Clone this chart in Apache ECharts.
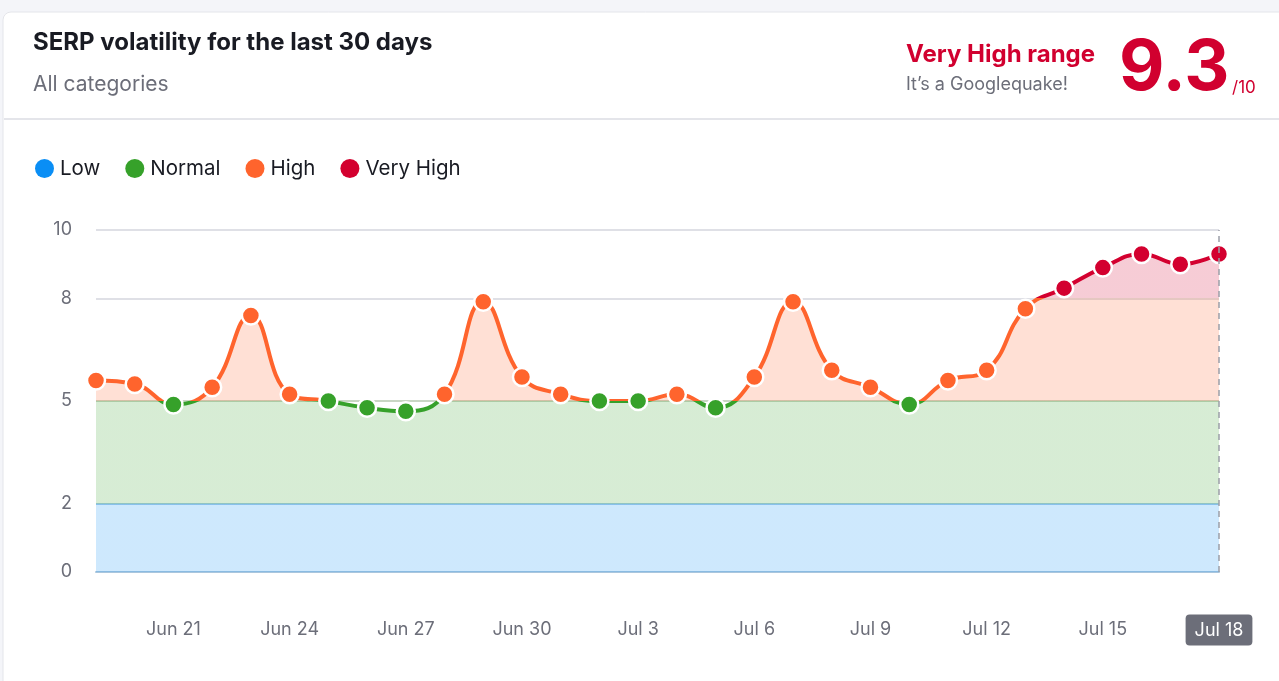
<!DOCTYPE html>
<html>
<head>
<meta charset="utf-8">
<title>SERP volatility</title>
<script src="https://cdn.jsdelivr.net/npm/echarts@6/dist/echarts.min.js"></script>
<style>
    html, body { margin: 0; padding: 0; background: #f4f5f9; }
    #chart { width: 1279px; height: 681px; }
</style>
</head>
<body>
<div id="chart"></div>
<script>
// data
const days = ['Jun 19', 'Jun 20', 'Jun 21', 'Jun 22', 'Jun 23', 'Jun 24', 'Jun 25', 'Jun 26', 'Jun 27', 'Jun 28',
    'Jun 29', 'Jun 30', 'Jul 1', 'Jul 2', 'Jul 3', 'Jul 4', 'Jul 5', 'Jul 6', 'Jul 7', 'Jul 8',
    'Jul 9', 'Jul 10', 'Jul 11', 'Jul 12', 'Jul 13', 'Jul 14', 'Jul 15', 'Jul 16', 'Jul 17', 'Jul 18'];
const volatility = [5.6, 5.5, 4.9, 5.4, 7.5, 5.2, 5.0, 4.8, 4.7, 5.2,
    7.9, 5.7, 5.2, 5.0, 5.0, 5.2, 4.8, 5.7, 7.9, 5.9,
    5.4, 4.9, 5.6, 5.9, 7.7, 8.3, 8.9, 9.3, 9.0, 9.3];
const yTicks = [0, 2, 5, 8, 10];
const rangeNames = ['Low', 'Normal', 'High', 'Very High'];
const rangeColors = ['#0a8ef5', '#36a12a', '#ff642d', '#d3002f'];

const gridColors = [];
for (let v = 0; v <= 10; v++) {
    if (v === 2) gridColors.push('#a8cde9');
    else if (v === 5) gridColors.push('#c9d6c4');
    else if (v === 8 || v === 10) gridColors.push('#dfe0e6');
    else gridColors.push('rgba(0,0,0,0)');
}

const chart = echarts.init(document.getElementById('chart'));
const FONT = 'Inter, "Noto Sans", sans-serif';
const lastIdx = days.length - 1;

chart.setOption({
    animation: false,
    textStyle: { fontFamily: FONT },
    graphic: [
        {
            type: 'rect', z: -10, silent: true,
            shape: { x: 3, y: 12, width: 1290, height: 680, r: 8 },
            style: { fill: '#fff', stroke: '#e4e5ea', lineWidth: 1 }
        },
        {
            type: 'rect', z: -9, silent: true,
            shape: { x: 4, y: 118, width: 1280, height: 2 },
            style: { fill: '#e4e5ea' }
        },
        {
            type: 'text', left: 33, top: 31,
            style: { text: 'SERP volatility for the last 30 days', font: 'bold 24px ' + FONT, fill: '#191b23' }
        },
        {
            type: 'text', left: 33, top: 74,
            style: { text: 'All categories', font: '21px ' + FONT, fill: '#6c6e79' }
        },
        {
            type: 'text', left: 906, top: 43,
            style: { text: 'Very High range', font: 'bold 24px ' + FONT, fill: '#d1002f' }
        },
        {
            type: 'text', left: 906, top: 76,
            style: { text: 'It’s a Googlequake!', font: '18px ' + FONT, fill: '#6c6e79' }
        },
        {
            type: 'text', left: 1119, top: 34,
            style: { text: volatility[lastIdx].toFixed(1), font: 'bold 70px ' + FONT, fill: '#d1002f' }
        },
        {
            type: 'text', left: 1232, top: 79,
            style: { text: '/10', font: '17px ' + FONT, fill: '#d1002f' }
        }
    ],
    visualMap: {
        type: 'piecewise',
        show: true,
        orient: 'horizontal',
        left: 35,
        top: 158,
        padding: 0,
        dimension: 1,
        seriesIndex: 0,
        itemSymbol: 'circle',
        itemWidth: 19,
        itemHeight: 19,
        itemGap: 25,
        textGap: 6,
        hoverLink: false,
        selectedMode: false,
        textStyle: { fontSize: 20.5, color: '#191b23', fontFamily: FONT },
        pieces: [
            { lte: 2, label: rangeNames[0], color: rangeColors[0] },
            { gt: 2, lte: 5, label: rangeNames[1], color: rangeColors[1] },
            { gt: 5, lte: 8, label: rangeNames[2], color: rangeColors[2] },
            { gt: 8, label: rangeNames[3], color: rangeColors[3] }
        ]
    },
    grid: { left: 96, right: 60, top: 230, bottom: 109 },
    xAxis: {
        type: 'category',
        data: days,
        boundaryGap: false,
        axisTick: { show: false },
        axisLine: { lineStyle: { color: '#aac6dd', width: 2 } },
        axisLabel: {
            interval: function (i) { return i % 3 === 2; },
            margin: 58,
            verticalAlign: 'middle',
            fontSize: 18,
            color: '#6c6e79',
            formatter: function (v, i) {
                return i === lastIdx ? '{hl|' + v + '}' : v;
            },
            rich: {
                hl: {
                    backgroundColor: '#6c6e79',
                    color: '#fff',
                    fontSize: 18,
                    padding: [7, 9, 6, 9],
                    borderRadius: 4
                }
            }
        }
    },
    yAxis: {
        type: 'value',
        min: 0,
        max: 10,
        interval: 1,
        axisLabel: {
            fontSize: 18,
            color: '#6c6e79',
            margin: 24,
            formatter: function (v) { return yTicks.indexOf(v) >= 0 ? String(v) : ''; }
        },
        splitLine: { show: true, showMinLine: true, lineStyle: { color: gridColors, width: 2 } }
    },
    series: [{
        type: 'line',
        data: volatility,
        smooth: 0.45,
        symbol: 'circle',
        symbolSize: 18,
        lineStyle: { width: 4 },
        itemStyle: { borderColor: '#fff', borderWidth: 2.5 },
        areaStyle: { opacity: 0.2 },
        markLine: {
            silent: true,
            symbol: 'none',
            label: { show: false },
            lineStyle: { color: '#9c9ea8', type: [6, 5], width: 1.5 },
            data: [{ xAxis: days[lastIdx] }]
        }
    }]
});
</script>
</body>
</html>
